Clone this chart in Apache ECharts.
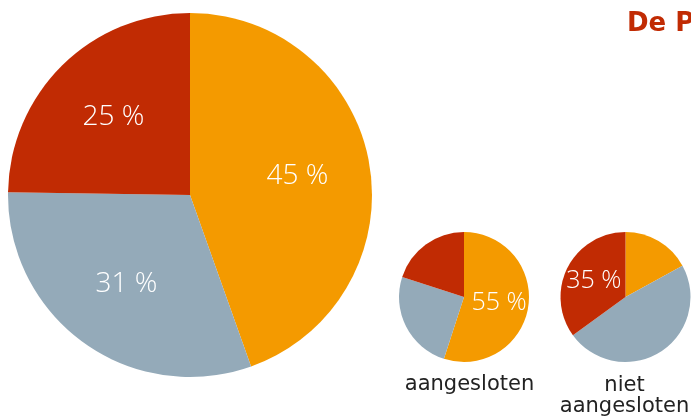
<!DOCTYPE html>
<html>
<head>
<meta charset="utf-8">
<script src="https://cdn.jsdelivr.net/npm/echarts@6/dist/echarts.min.js"></script>
<style>
  html, body { margin: 0; padding: 0; background: #fff; }
  #main { width: 691px; height: 418px; }
</style>
</head>
<body>
<div id="main"></div>
<script>
// slice order clockwise from 12 o'clock: oranje, grijs, rood
var sliceNames = ['oranje', 'grijs', 'rood'];
var sliceColors = ['#f49a00', '#94aab9', '#c12b03'];
var totaalValues = [45, 31, 25];
var aangeslotenValues = [55, 25, 20];
var nietAangeslotenValues = [17, 48, 35];
// which slices get a label in the small pies
var aangeslotenLabel = 'oranje';
var nietAangeslotenLabel = 'rood';

var FONT = '"DejaVu Sans", sans-serif';
var LIGHT = '"Open Sans", sans-serif';

function makeData(values, labelled) {
  return values.map(function (v, i) {
    return {
      name: sliceNames[i],
      value: v,
      itemStyle: { color: sliceColors[i] },
      label: { show: labelled === sliceNames[i] }
    };
  });
}

var myChart = echarts.init(document.getElementById('main'));

myChart.setOption({
  animation: false,
  backgroundColor: '#ffffff',
  graphic: [
    {
      type: 'text', x: 627, y: 24,
      style: { text: 'De P', fill: '#c12b03', font: 'bold 26px ' + FONT, verticalAlign: 'middle' }
    },
    {
      type: 'text', x: 469.5, y: 385,
      style: { text: 'aangesloten', fill: '#222', font: '21px ' + FONT, align: 'center', verticalAlign: 'middle' }
    },
    {
      type: 'text', x: 624.5, y: 396,
      style: { text: 'niet\naangesloten', fill: '#222', font: '21px ' + FONT, align: 'center', verticalAlign: 'middle', lineHeight: 21 }
    }
  ],
  series: [
    {
      type: 'pie',
      center: [190, 195],
      radius: 182,
      startAngle: 90,
      silent: true,
      label: { show: false },
      labelLine: { show: false },
      data: makeData(totaalValues, null)
    },
    {
      // label layer for the big pie, pushed a bit outward
      type: 'pie',
      center: [190, 195],
      radius: [30, 182],
      startAngle: 90,
      silent: true,
      itemStyle: { color: 'rgba(0,0,0,0)' },
      label: {
        position: 'inside', formatter: '{c} %',
        color: '#fff', fontSize: 28, fontWeight: 300, fontFamily: LIGHT
      },
      labelLine: { show: false },
      data: totaalValues.map(function (v, i) {
        return { name: sliceNames[i], value: v, itemStyle: { color: 'rgba(0,0,0,0)' } };
      })
    },
    {
      type: 'pie',
      center: [464, 297],
      radius: 65,
      startAngle: 90,
      silent: true,
      label: {
        position: 'inside', formatter: '{c} %',
        color: '#fff', fontSize: 25, fontWeight: 300, fontFamily: LIGHT
      },
      labelLine: { show: false },
      data: makeData(aangeslotenValues, aangeslotenLabel)
    },
    {
      type: 'pie',
      center: [625.5, 297],
      radius: 65,
      startAngle: 90,
      silent: true,
      label: {
        position: 'inside', formatter: '{c} %',
        color: '#fff', fontSize: 25, fontWeight: 300, fontFamily: LIGHT
      },
      labelLine: { show: false },
      data: makeData(nietAangeslotenValues, nietAangeslotenLabel)
    }
  ]
});
window.onresize = myChart.resize;
</script>
</body>
</html>
